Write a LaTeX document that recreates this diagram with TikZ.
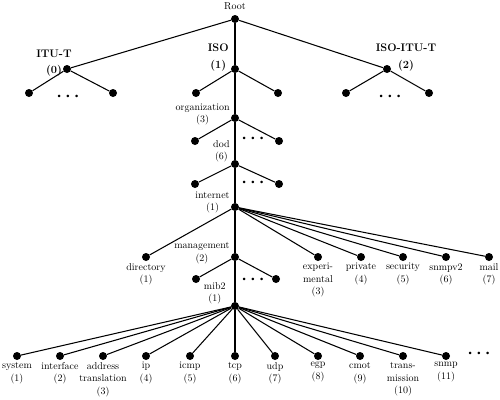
\documentclass[tikz,border=0pt]{standalone}
\usepackage{tikz}
\usetikzlibrary{positioning}

\begin{document}
\begin{tikzpicture}[
  x=1pt, y=-1pt,
  dot/.style={circle, fill=black, inner sep=0pt, minimum size=8pt},
  edge/.style={line width=1.05pt},
  lbl/.style={align=center, inner sep=1pt,
    font=\fontsize{10pt}{12.5pt}\selectfont, execute at begin node=\strut},
  top/.style={align=center, inner sep=1pt,
    font=\fontsize{11pt}{16.5pt}\selectfont\bfseries},
  more/.style={inner sep=0pt, font=\small}
]
\useasboundingbox (0,0) rectangle (500,399);

\node[dot] (root) at (235,19) {};
\node[lbl, above=0pt of root] (rootL) {Root};

\node[dot] (itu) at (67,69) {};
\node[dot] (iso) at (235,69) {};
\node[dot] (isoitu) at (387,69) {};
\node[top] (ituL) at ([shift={(-13,-6)}]itu) {ITU-T\\(0)};
\node[top, left=1pt of iso, yshift=11.5pt] (isoL) {ISO\\(1)};
\node[top] (isoituL) at ([shift={(19,-11.5)}]isoitu) {ISO-ITU-T\\(2)};

\node[dot] (itu1) at (29,93) {};
\node[dot] (itu2) at (113,93) {};
\node[more] (ituM) at (68,97) {\textbullet\,\textbullet\,\textbullet};
\node[dot] (iso1) at (196,93) {};
\node[dot] (iso2) at (278,93) {};
\node[dot] (isoitu1) at (346,93) {};
\node[dot] (isoitu2) at (429,93) {};
\node[more] (isoituM) at (390,97) {\textbullet\,\textbullet\,\textbullet};

\node[dot] (org) at (235,118) {};
\node[lbl, left=0pt of org, yshift=3pt] (orgL) {organization\\(3)};
\node[dot] (org1) at (195,141) {};
\node[dot] (org2) at (279,141) {};
\node[more] (orgM) at (253,139) {\textbullet\,\textbullet\,\textbullet};

\node[dot] (dod) at (235,164) {};
\node[lbl, left=0pt of dod, yshift=12pt] (dodL) {dod\\(6)};
\node[dot] (dod1) at (195,184) {};
\node[dot] (dod2) at (279,184) {};
\node[more] (dodM) at (253,183) {\textbullet\,\textbullet\,\textbullet};

\node[dot] (inet) at (235,207) {};
\node[lbl, left=0pt of inet, yshift=4pt] (inetL) {internet\\(1)};

\node[dot] (dir) at (146,257) {};
\node[dot] (mgmt) at (235,257) {};
\node[dot] (exper) at (318,257) {};
\node[dot] (priv) at (361,257) {};
\node[dot] (sec) at (403,257) {};
\node[dot] (snmpv2) at (446,257) {};
\node[dot] (mail) at (489,257) {};
\node[lbl, below=1pt of dir] (dirL) {directory\\(1)};
\node[lbl, left=0pt of mgmt, yshift=3pt] (mgmtL) {management\\(2)};
\node[lbl, below=1pt of exper] (experL) {experi-\\mental\\(3)};
\node[lbl, below=1pt of priv] (privL) {private\\(4)};
\node[lbl, below=1pt of sec] (secL) {security\\(5)};
\node[lbl, below=1pt of snmpv2] (snmpv2L) {snmpv2\\(6)};
\node[lbl, below=1pt of mail] (mailL) {mail\\(7)};

\node[dot] (mgmt1) at (196,279) {};
\node[dot] (mgmt2) at (276,279) {};
\node[more] (mgmtM) at (253,280) {\textbullet\,\textbullet\,\textbullet};

\node[dot] (mib) at (235,306) {};
\node[lbl, left=4pt of mib, yshift=12pt] (mibL) {mib2\\(1)};

\node[dot] (sys) at (17,356) {};
\node[dot] (intf) at (60,356) {};
\node[dot] (addr) at (103,356) {};
\node[dot] (ip) at (146,356) {};
\node[dot] (icmp) at (190,356) {};
\node[dot] (tcp) at (235,356) {};
\node[dot] (udp) at (275,356) {};
\node[dot] (egp) at (318,356) {};
\node[dot] (cmot) at (360,356) {};
\node[dot] (trans) at (403,356) {};
\node[dot] (snmp) at (446,356) {};
\node[more] (mibM) at (479,354) {\textbullet\,\textbullet\,\textbullet};
\node[lbl, below=1pt of sys] (sysL) {system\\(1)};
\node[lbl, below=1pt of intf] (intfL) {interface\\(2)};
\node[lbl, below=1pt of addr] (addrL) {address\\translation\\(3)};
\node[lbl, below=1pt of ip] (ipL) {ip\\(4)};
\node[lbl, below=1pt of icmp] (icmpL) {icmp\\(5)};
\node[lbl, below=1pt of tcp] (tcpL) {tcp\\(6)};
\node[lbl, below=1pt of udp] (udpL) {udp\\(7)};
\node[lbl, below=1pt of egp] (egpL) {egp\\(8)};
\node[lbl, below=1pt of cmot] (cmotL) {cmot\\(9)};
\node[lbl, below=1pt of trans] (transL) {trans-\\mission\\(10)};
\node[lbl, below=1pt of snmp] (snmpL) {snmp\\(11)};

\draw[edge] (root) -- (itu);
\draw[edge] (root) -- (iso);
\draw[edge] (root) -- (isoitu);
\draw[edge] (itu) -- (itu1);
\draw[edge] (itu) -- (itu2);
\draw[edge] (iso) -- (iso1);
\draw[edge] (iso) -- (iso2);
\draw[edge] (isoitu) -- (isoitu1);
\draw[edge] (isoitu) -- (isoitu2);
\draw[edge] (iso) -- (org);
\draw[edge] (org) -- (org1);
\draw[edge] (org) -- (org2);
\draw[edge] (org) -- (dod);
\draw[edge] (dod) -- (dod1);
\draw[edge] (dod) -- (dod2);
\draw[edge] (dod) -- (inet);
\draw[edge] (inet) -- (dir);
\draw[edge] (inet) -- (mgmt);
\draw[edge] (inet) -- (exper);
\draw[edge] (inet) -- (priv);
\draw[edge] (inet) -- (sec);
\draw[edge] (inet) -- (snmpv2);
\draw[edge] (inet) -- (mail);
\draw[edge] (mgmt) -- (mgmt1);
\draw[edge] (mgmt) -- (mgmt2);
\draw[edge] (mgmt) -- (mib);
\draw[edge] (mib) -- (sys);
\draw[edge] (mib) -- (intf);
\draw[edge] (mib) -- (addr);
\draw[edge] (mib) -- (ip);
\draw[edge] (mib) -- (icmp);
\draw[edge] (mib) -- (tcp);
\draw[edge] (mib) -- (udp);
\draw[edge] (mib) -- (egp);
\draw[edge] (mib) -- (cmot);
\draw[edge] (mib) -- (trans);
\draw[edge] (mib) -- (snmp);

\end{tikzpicture}
\end{document}
